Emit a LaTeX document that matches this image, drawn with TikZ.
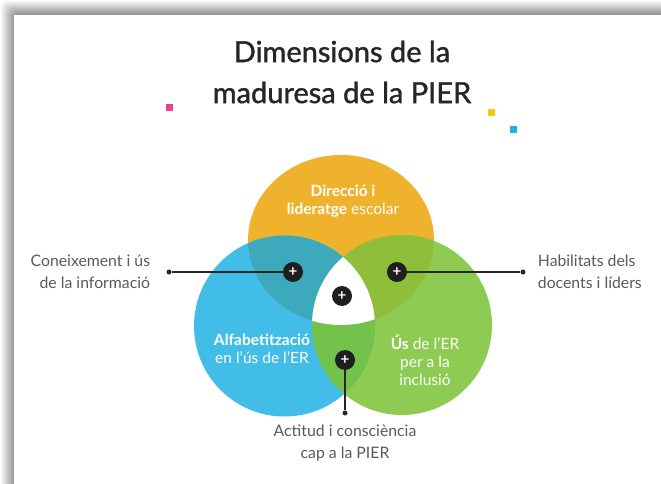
\documentclass[tikz,border=0pt]{standalone}
\usepackage{fontspec}
\setmainfont{Lato}
\newfontfamily\titlefont{Lato}[FakeBold=1.3]
\usetikzlibrary{positioning}
\definecolor{orangeC}{HTML}{EFB22C}
\definecolor{blueC}{HTML}{41BDE7}
\definecolor{greenC}{HTML}{8DCB52}
\definecolor{obC}{HTML}{3DA9BC}
\definecolor{ogC}{HTML}{8EBE3A}
\definecolor{bgC}{HTML}{73C24B}
\definecolor{magC}{HTML}{EC3F93}
\definecolor{yelC}{HTML}{F2CB12}
\definecolor{cyaC}{HTML}{1FB2DA}
\definecolor{txtC}{HTML}{5A5A5A}
\tikzset{
  plus/.style={circle, fill=black!88, text=white, minimum size=20pt, inner sep=0pt,
    font=\bfseries\fontsize{15}{15}\selectfont},
  dot/.style={circle, fill=black!85, minimum size=5pt, inner sep=0pt},
  conn/.style={line width=1.3pt, black!85},
  lbl/.style={text=txtC, inner sep=0pt, font=\fontsize{15.8}{22}\selectfont},
  inlbl/.style={text=white, align=center, inner sep=0pt, font=\fontsize{15.5}{18}\selectfont},
  sq/.style={minimum size=7pt, inner sep=0pt},
}

\begin{document}
\begin{tikzpicture}[x=1pt,y=-1pt]
    \useasboundingbox (0,0) rectangle (661,484);

    % frame shadow
    \foreach \i in {0,...,14}{
      \pgfmathsetmacro\g{3*\i}
      \fill[black!\g, rounded corners=6pt] (\i,\i) rectangle (700,520);
    }
    \fill[white] (14,15) rectangle (661,484);

    % title and dots
    \node[align=center, inner sep=0pt, text=black!85, font=\titlefont\fontsize{29}{41}\selectfont]
      (title) at (342,72) {Dimensions de la\\maduresa de la PIER};
    \node[sq, fill=magC] (sqM) at (169,108) {};
    \node[sq, fill=yelC] (sqY) at (491,113) {};
    \node[sq, fill=cyaC] (sqC) at (513,130) {};

    % circles
    \coordinate (cO) at (341,240);
    \coordinate (cB) at (284.5,326);
    \coordinate (cG) at (402,325);
    \fill[orangeC] (cO) ellipse [x radius=93, y radius=85];
    \fill[blueC] (cB) circle (90.5);
    \fill[greenC] (cG) circle (90);
    \begin{scope}
      \clip (cO) ellipse [x radius=93, y radius=85];
      \fill[obC] (cB) circle (90.5);
      \fill[ogC] (cG) circle (90);
    \end{scope}
    \begin{scope}
      \clip (cB) circle (90.5);
      \fill[bgC] (cG) circle (90);
      \clip (cG) circle (90);
      \fill[white] (cO) ellipse [x radius=93, y radius=85];
    \end{scope}

    % circle texts
    \node[inlbl] (tO) at (343,201) {\bfseries Direcció i\\{\bfseries lideratge} escolar};
    \node[inlbl] (tB) at (262,349) {\bfseries Alfabetització\\en l'ús de l'ER};
    \node[inlbl] (tG) at (425,360) {{\bfseries Ús} de l'ER\\per a la\\inclusió};

    % markers
    \node[plus] (pL) at (293,272) {+};
    \node[plus] (pR) at (397,272) {+};
    \node[plus] (pC) at (342,296) {+};
    \node[plus] (pD) at (345,360) {+};

    \node[dot] (dL) at (169,272) {};
    \node[dot] (dR) at (523,272) {};
    \node[dot] (dD) at (345,413) {};
    \draw[conn] (pL) -- (dL);
    \draw[conn] (pR) -- (dR);
    \draw[conn] (pD) -- (dD);

    \node[lbl, align=right, left=16pt of dL] (tL) {Coneixement i ús\\de la informació};
    \node[lbl, align=left, right=12pt of dR] (tR) {Habilitats dels\\docents i líders};
    \node[lbl, align=center, below=9pt of dD] (tD) {Actitud i consciència\\cap a la PIER};

\end{tikzpicture}
\end{document}
